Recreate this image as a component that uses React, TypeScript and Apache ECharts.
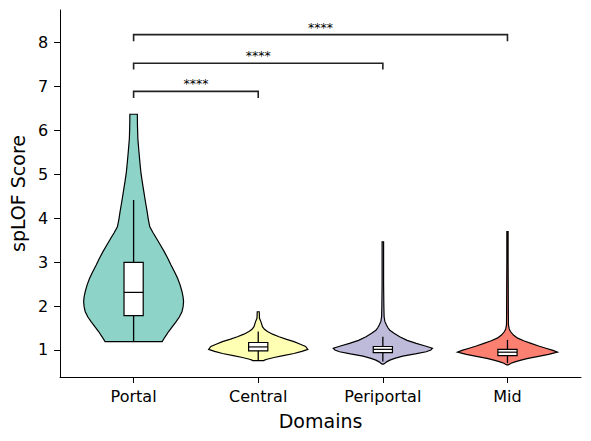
import React, { useEffect, useRef } from "react";
import * as echarts from "echarts";

// ---- data ----
const categories = ["Portal", "Central", "Periportal", "Mid"];
const colors = ["#8dd3c7", "#ffffb3", "#bebada", "#fb8072"];

// violin profiles: [score, half-width (in category units)], top to bottom
const portalProfile = [
  [6.36, 0.030], [6.1, 0.031], [5.81, 0.034], [5.5, 0.043], [5.25, 0.051], [5.05, 0.058],
  [4.85, 0.068], [4.6, 0.082], [4.37, 0.095], [4.14, 0.109], [3.97, 0.118], [3.8, 0.13],
  [3.67, 0.155], [3.54, 0.183], [3.38, 0.216], [3.23, 0.247], [3.08, 0.275], [2.93, 0.300],
  [2.78, 0.328], [2.63, 0.353], [2.48, 0.373], [2.33, 0.388], [2.21, 0.397], [2.10, 0.401],
  [1.98, 0.397], [1.87, 0.388], [1.75, 0.367], [1.64, 0.340], [1.53, 0.311], [1.42, 0.281],
  [1.30, 0.253], [1.19, 0.229],
];
const centralProfile = [
  [1.87, 0.008], [1.72, 0.010], [1.64, 0.022], [1.53, 0.034], [1.47, 0.050], [1.42, 0.074],
  [1.36, 0.115], [1.30, 0.167], [1.24, 0.228], [1.19, 0.287], [1.13, 0.338], [1.08, 0.380],
  [1.015, 0.398], [0.97, 0.350], [0.92, 0.287], [0.87, 0.200], [0.83, 0.127], [0.79, 0.07],
  [0.77, 0.05], [0.76, 0.045],
];
const periportalProfile = [
  [3.46, 0.006], [3.0, 0.006], [2.5, 0.006], [2.0, 0.008], [1.76, 0.010], [1.65, 0.016],
  [1.57, 0.029], [1.5, 0.042], [1.45, 0.056], [1.38, 0.090], [1.30, 0.135], [1.22, 0.195],
  [1.15, 0.268], [1.09, 0.340], [1.04, 0.398], [1.0, 0.385], [0.96, 0.348], [0.91, 0.260],
  [0.86, 0.159], [0.81, 0.095], [0.77, 0.056], [0.73, 0.03], [0.70, 0.016], [0.68, 0.006],
];
const midProfile = [
  [3.69, 0.005], [3.0, 0.005], [2.5, 0.006], [1.8, 0.007], [1.57, 0.008], [1.48, 0.014],
  [1.42, 0.024], [1.34, 0.048], [1.27, 0.082], [1.21, 0.130], [1.15, 0.189], [1.09, 0.250],
  [1.04, 0.308], [0.99, 0.365], [0.95, 0.401], [0.90, 0.330], [0.85, 0.239], [0.81, 0.165],
  [0.77, 0.109], [0.73, 0.060], [0.70, 0.029], [0.66, 0.006],
];
const profiles = [portalProfile, centralProfile, periportalProfile, midProfile];

// box stats: [lower whisker, Q1, median, Q3, upper whisker]
const boxStats = [
  [1.19, 1.78, 2.31, 2.99, 4.41],
  [0.76, 0.98, 1.07, 1.17, 1.42],
  [0.74, 0.94, 1.015, 1.08, 1.30],
  [0.70, 0.87, 0.95, 1.015, 1.23],
];

// significance brackets: [from index, to index, bracket height, tick bottom]
const brackets = [
  [0, 1, 6.88, 6.73],
  [0, 2, 7.52, 7.38],
  [0, 3, 8.17, 8.02],
];
const bracketLabels = ["****", "****", "****"];

const yTicks = [1, 2, 3, 4, 5, 6, 7, 8];
const xTicks = [0, 1, 2, 3];

const BOX_HALF = 0.077;
const FONT = "DejaVu Sans";

export default function App() {
  const ref = useRef<HTMLDivElement>(null);
  useEffect(() => {
    if (!ref.current) return;
    const chart = echarts.init(ref.current, null, { renderer: "svg" });
    const option: any = {
      animation: false,
      backgroundColor: "#ffffff",
      grid: { left: 57, right: 10, top: 10, bottom: 64 },
      xAxis: {
        type: "value",
        min: -0.59,
        max: 3.59,
        name: "Domains",
        nameLocation: "middle",
        nameGap: 34,
        nameTextStyle: { fontFamily: FONT, fontSize: 19, color: "#000" },
        axisLine: { show: true, onZero: false, lineStyle: { color: "#000", width: 1 } },
        axisTick: { show: true, length: 6, customValues: xTicks, lineStyle: { color: "#000", width: 1 } },
        axisLabel: {
          customValues: xTicks,
          formatter: (v: number) => categories[Math.round(v)] ?? "",
          fontFamily: FONT,
          fontSize: 16,
          color: "#000",
          margin: 11,
        },
        splitLine: { show: false },
      },
      yAxis: {
        type: "value",
        min: 0.386,
        max: 8.73,
        name: "spLOF Score",
        nameLocation: "middle",
        nameGap: 31,
        nameRotate: 90,
        nameTextStyle: { fontFamily: FONT, fontSize: 19, color: "#000" },
        axisLine: { show: true, onZero: false, lineStyle: { color: "#000", width: 1 } },
        axisTick: { show: true, length: 6, customValues: yTicks, lineStyle: { color: "#000", width: 1 } },
        axisLabel: {
          customValues: yTicks,
          fontFamily: FONT,
          fontSize: 16,
          color: "#000",
          margin: 12,
        },
        splitLine: { show: false },
      },
      series: [
        {
          type: "custom",
          name: "violin",
          data: categories.map((_, i) => [i, boxStats[i][2]]),
          z: 2,
          renderItem: (params: any, api: any) => {
            const i = params.dataIndex;
            const prof = profiles[i];
            const right = prof.map(([y, w]) => api.coord([i + w, y]));
            const left = prof.slice().reverse().map(([y, w]) => api.coord([i - w, y]));
            return {
              type: "polygon",
              shape: { points: right.concat(left) },
              style: { fill: colors[i], stroke: "#000", lineWidth: 1.2 },
            };
          },
        },
        {
          type: "custom",
          name: "box",
          data: categories.map((_, i) => [i, boxStats[i][2]]),
          z: 3,
          renderItem: (params: any, api: any) => {
            const i = params.dataIndex;
            const [lo, q1, med, q3, hi] = boxStats[i];
            const pLo = api.coord([i, lo]);
            const pHi = api.coord([i, hi]);
            const tl = api.coord([i - BOX_HALF, q3]);
            const br = api.coord([i + BOX_HALF, q1]);
            const ml = api.coord([i - BOX_HALF, med]);
            const mr = api.coord([i + BOX_HALF, med]);
            return {
              type: "group",
              children: [
                {
                  type: "line",
                  shape: { x1: pLo[0], y1: pLo[1], x2: pHi[0], y2: pHi[1] },
                  style: { stroke: "#000", lineWidth: 1.3 },
                },
                {
                  type: "rect",
                  shape: { x: tl[0], y: tl[1], width: br[0] - tl[0], height: br[1] - tl[1] },
                  style: { fill: "#fff", stroke: "#000", lineWidth: 1.2 },
                },
                {
                  type: "line",
                  shape: { x1: ml[0], y1: ml[1], x2: mr[0], y2: mr[1] },
                  style: { stroke: "#000", lineWidth: 1.2 },
                },
              ],
            };
          },
        },
        {
          type: "custom",
          name: "brackets",
          data: brackets.map((b) => [(b[0] + b[1]) / 2, b[2]]),
          z: 4,
          renderItem: (params: any, api: any) => {
            const [a, b, y, yt] = brackets[params.dataIndex];
            const p1 = api.coord([a, yt]);
            const p2 = api.coord([a, y]);
            const p3 = api.coord([b, y]);
            const p4 = api.coord([b, yt]);
            const mid = api.coord([(a + b) / 2, y]);
            return {
              type: "group",
              children: [
                {
                  type: "polyline",
                  shape: { points: [p1, p2, p3, p4] },
                  style: { stroke: "#222", lineWidth: 1.6, fill: null },
                },
                {
                  type: "text",
                  x: mid[0],
                  y: mid[1] - 1,
                  style: {
                    text: bracketLabels[params.dataIndex],
                    fontFamily: FONT,
                    fontSize: 12.5,
                    fill: "#000",
                    stroke: "none",
                    lineWidth: 0,
                    align: "center",
                    verticalAlign: "bottom",
                  },
                },
              ],
            };
          },
        },
      ],
    };
    chart.setOption(option);
    return () => chart.dispose();
  }, []);
  return (
    <div
      ref={ref}
      style={{ position: "fixed", left: 0, top: 0, width: 591, height: 441, background: "#fff" }}
    />
  );
}
